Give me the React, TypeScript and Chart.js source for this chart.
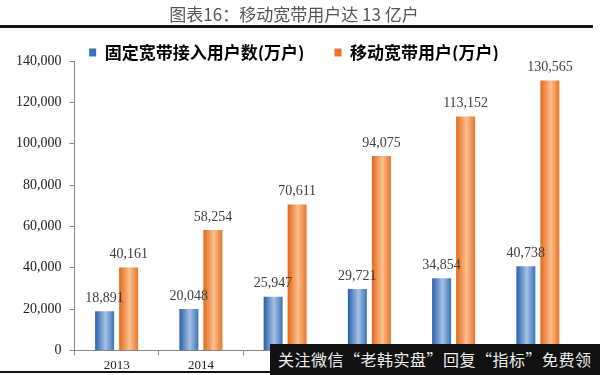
import React, { useEffect, useRef } from "react";
import { Chart, registerables } from "chart.js";

Chart.register(...registerables);

const years = ["2013", "2014", "2015", "2016", "2017", "2018"];
const fixedBroadband = [18891, 20048, 25947, 29721, 34854, 40738];
const mobileBroadband = [40161, 58254, 70611, 94075, 113152, 130565];
const yTicks = [0, 20000, 40000, 60000, 80000, 100000, 120000, 140000];
const seriesNames = ["固定宽带接入用户数(万户)", "移动宽带用户(万户)"];
const titleText = "图表16：移动宽带用户达 13 亿户";
const bannerText = "关注微信“老韩实盘”回复“指标”免费领";

const CAT_PCT = 0.57;
const BAR_PCT = 0.79;

const palettes = [
  { dark: "#2860aa", light: "#a7c2e4", edge: "#3a72bb" },
  { dark: "#e2681a", light: "#fbc08e", edge: "#e87428" },
];

const fmt = (v: number) => v.toLocaleString("en-US");

function gradientFor(ctx: any) {
  const chart = ctx.chart;
  const pal = palettes[ctx.datasetIndex] || palettes[0];
  const xs = chart.scales && chart.scales.x;
  if (ctx.type !== "data" || !xs || !isFinite(xs.width) || xs.width <= 0) return pal.edge;
  const center = xs.getPixelForValue(ctx.dataIndex);
  const catW = xs.width / years.length;
  const groupW = catW * CAT_PCT;
  const slot = groupW / 2;
  const barW = slot * BAR_PCT;
  const bx = center - groupW / 2 + slot * (ctx.datasetIndex + 0.5);
  const g = chart.ctx.createLinearGradient(bx - barW / 2, 0, bx + barW / 2, 0);
  g.addColorStop(0, pal.dark);
  g.addColorStop(0.55, pal.light);
  g.addColorStop(1, pal.edge);
  return g;
}

const valueLabels = {
  id: "valueLabels",
  afterDatasetsDraw(chart: any) {
    const c = chart.ctx;
    c.save();
    c.font = "14px 'Liberation Serif', 'DejaVu Serif', serif";
    c.fillStyle = "#404040";
    c.textAlign = "center";
    c.textBaseline = "bottom";
    chart.data.datasets.forEach((ds: any, di: number) => {
      const meta = chart.getDatasetMeta(di);
      meta.data.forEach((el: any, i: number) => {
        c.fillText(fmt(ds.data[i]), el.x, el.y - 6);
      });
    });
    c.restore();
  },
};

const legendTrim = {
  id: "legendTrim",
  afterInit(chart: any) {
    const lg = chart.legend;
    if (!lg || lg.__trimmed) return;
    const orig = lg.fit.bind(lg);
    lg.fit = function () {
      orig();
      this.height = Math.max(0, this.height - 10);
    };
    lg.__trimmed = true;
  },
};

export default function App() {
  const ref = useRef<HTMLCanvasElement | null>(null);

  useEffect(() => {
    document.body.style.margin = "0";
    if (!ref.current) return;
    const chart = new Chart(ref.current, {
      type: "bar",
      data: {
        labels: years,
        datasets: [
          { label: seriesNames[0], data: fixedBroadband, backgroundColor: gradientFor as any },
          { label: seriesNames[1], data: mobileBroadband, backgroundColor: gradientFor as any },
        ],
      },
      options: {
        responsive: false,
        animation: false,
        layout: { padding: { top: 14, left: 8, right: 20, bottom: 0 } },
        datasets: { bar: { categoryPercentage: CAT_PCT, barPercentage: BAR_PCT } },
        plugins: {
          legend: {
            display: true,
            position: "top",
            labels: {
              boxWidth: 7,
              boxHeight: 8,
              padding: 30,
              color: "#111",
              font: { size: 17, weight: "bold", family: "'Noto Sans CJK SC', sans-serif" },
              generateLabels: () =>
                seriesNames.map((n, i) => ({
                  text: n,
                  fillStyle: palettes[i].edge,
                  strokeStyle: palettes[i].edge,
                  lineWidth: 0,
                  datasetIndex: i,
                  hidden: false,
                })),
            },
          },
          tooltip: { enabled: false },
          title: { display: false },
        },
        scales: {
          x: {
            grid: {
              display: true,
              drawOnChartArea: false,
              drawTicks: true,
              tickLength: 5,
              color: "#888",
              offset: true,
            },
            border: { display: true, color: "#888", width: 1 },
            ticks: {
              color: "#222",
              padding: 2,
              font: { size: 13, family: "'Liberation Serif', 'DejaVu Serif', serif" },
            },
          },
          y: {
            min: 0,
            max: 140000,
            afterBuildTicks: (axis: any) => {
              axis.ticks = yTicks.map((v) => ({ value: v }));
            },
            grid: {
              display: true,
              drawOnChartArea: false,
              drawTicks: true,
              tickLength: 5,
              color: "#888",
            },
            border: { display: true, color: "#888", width: 1 },
            ticks: {
              color: "#222",
              padding: 8,
              font: { size: 14, family: "'Liberation Serif', 'DejaVu Serif', serif" },
              callback: (v: any) => fmt(Number(v)),
            },
          },
        },
      },
      plugins: [valueLabels, legendTrim],
    });
    return () => chart.destroy();
  }, []);

  return (
    <div style={{ position: "relative", width: 600, height: 375, background: "#fff", overflow: "hidden" }}>
      <canvas ref={ref} width={600} height={375} style={{ position: "absolute", left: 0, top: 0 }} />
      <div
        style={{
          position: "absolute",
          left: 0,
          width: 588,
          top: 4,
          textAlign: "center",
          fontSize: 17,
          color: "#555",
          fontFamily: "'Noto Sans CJK SC', 'Liberation Serif', serif",
          lineHeight: "20px",
        }}
      >
        {titleText}
      </div>
      <div style={{ position: "absolute", left: 0, top: 25, width: 593, height: 3, background: "#111" }} />
      <div style={{ position: "absolute", left: 0, top: 371, width: 600, height: 2, background: "#111" }} />
      <div
        style={{
          position: "absolute",
          left: 270,
          top: 344,
          width: 330,
          height: 31,
          background: "#111",
          color: "#eee",
          fontSize: 16,
          letterSpacing: 0.5,
          lineHeight: "31px",
          paddingLeft: 8,
          whiteSpace: "nowrap",
          fontFamily: "'Noto Sans CJK SC', sans-serif",
        }}
      >
        {bannerText}
      </div>
    </div>
  );
}
